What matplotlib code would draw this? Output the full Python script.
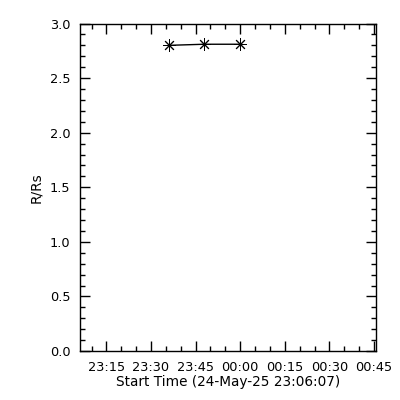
import matplotlib
matplotlib.use("Agg")
import matplotlib.pyplot as plt
import matplotlib.dates as mdates
from matplotlib.ticker import MultipleLocator
from datetime import datetime

start_time = datetime(2025, 5, 24, 23, 6, 7)
end_time = datetime(2025, 5, 25, 0, 45, 40)
times = [datetime(2025, 5, 24, 23, 36, 7),
         datetime(2025, 5, 24, 23, 47, 50),
         datetime(2025, 5, 24, 23, 59, 50)]
r_values = [2.80, 2.81, 2.81]

plt.rcParams['font.family'] = ['DejaVu Sans']
fig = plt.figure(figsize=(4, 4), dpi=100)
ax = fig.add_axes([0.2, 0.1225, 0.74, 0.81875])

ax.plot(times, r_values, color='black', linewidth=1.0,
        marker=(8, 2, 0), markersize=9, markeredgewidth=0.7)

ax.set_xlim(start_time, end_time)
ax.set_ylim(0.0, 3.0)
ax.xaxis.set_major_locator(mdates.MinuteLocator(byminute=[0, 15, 30, 45]))
ax.xaxis.set_minor_locator(mdates.MinuteLocator(byminute=range(0, 60, 5)))
ax.xaxis.set_major_formatter(mdates.DateFormatter('%H:%M'))
ax.yaxis.set_major_locator(MultipleLocator(0.5))
ax.yaxis.set_minor_locator(MultipleLocator(0.1))
ax.yaxis.set_major_formatter(plt.FormatStrFormatter('%.1f'))

ax.tick_params(which='both', direction='in', top=True, right=True,
               labelsize=9.3, width=1, pad=7)
ax.tick_params(which='major', length=7)
ax.tick_params(which='minor', length=3.5)
for s in ax.spines.values():
    s.set_linewidth(1)

ax.set_xlabel('Start Time (24-May-25 23:06:07)', fontsize=9.8, labelpad=1)
ax.set_ylabel('R/Rs', fontsize=9.8, labelpad=5)

fig.savefig('out.png', dpi=100)
